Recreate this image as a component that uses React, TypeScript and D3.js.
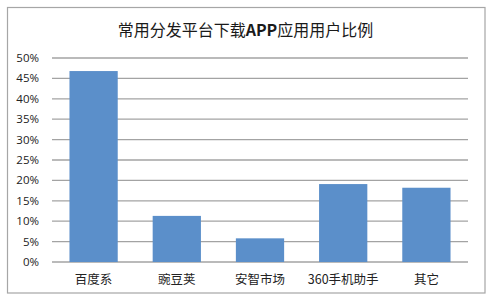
import React from "react";
import * as d3 from "d3";

const title = "常用分发平台下载APP应用用户比例";
const categories = ["百度系", "豌豆荚", "安智市场", "360手机助手", "其它"];
const values = [0.468, 0.113, 0.058, 0.191, 0.182];
const yTicks = [0, 0.05, 0.1, 0.15, 0.2, 0.25, 0.3, 0.35, 0.4, 0.45, 0.5];

const W = 492;
const H = 301;
const plot = { left: 52, right: 468, top: 58, bottom: 262 };

export default function App() {
  const x = d3
    .scaleBand<string>()
    .domain(categories)
    .range([plot.left, plot.right])
    .paddingInner(0.42)
    .paddingOuter(0.21);
  const y = d3.scaleLinear().domain([0, 0.5]).range([plot.bottom, plot.top]);
  const fmt = d3.format(".0%");
  const cjk = "'Noto Sans CJK SC', 'Noto Sans', sans-serif";

  return (
    <svg
      width={W}
      height={H}
      style={{ position: "absolute", left: 0, top: 0, background: "#fff" }}
    >
      <rect x={0} y={0} width={W} height={H} fill="#fff" />
      <rect
        x={7.5}
        y={7.5}
        width={477.5}
        height={285.5}
        fill="#fff"
        stroke="#a6a6a6"
        strokeWidth={1.2}
      />
      <text
        x={245.5}
        y={36}
        textAnchor="middle"
        fontFamily={cjk}
        fontSize={16}
        fill="#1a1a1a"
      >
        常用分发平台下载<tspan fontWeight="bold">APP</tspan>应用用户比例
      </text>
      {yTicks.map((t) => (
        <g key={t}>
          <line
            x1={plot.left}
            x2={plot.right}
            y1={y(t)}
            y2={y(t)}
            stroke="#a3a3a3"
            strokeWidth={1.3}
          />
          <text
            x={39}
            y={y(t)}
            dy="0.35em"
            textAnchor="end"
            fontFamily="'Open Sans', 'Liberation Sans', sans-serif"
            fontSize={11.5}
            fill="#222"
          >
            {fmt(t)}
          </text>
        </g>
      ))}
      {categories.map((c, i) => (
        <rect
          key={c}
          x={x(c)}
          y={y(values[i])}
          width={x.bandwidth()}
          height={y(0) - y(values[i])}
          fill="#5b8fca"
        />
      ))}
      {categories.map((c) => (
        <text
          key={c}
          x={(x(c) as number) + x.bandwidth() / 2}
          y={284}
          textAnchor="middle"
          fontFamily={cjk}
          fontSize={12.5}
          fill="#222"
        >
          {c}
        </text>
      ))}
    </svg>
  );
}
